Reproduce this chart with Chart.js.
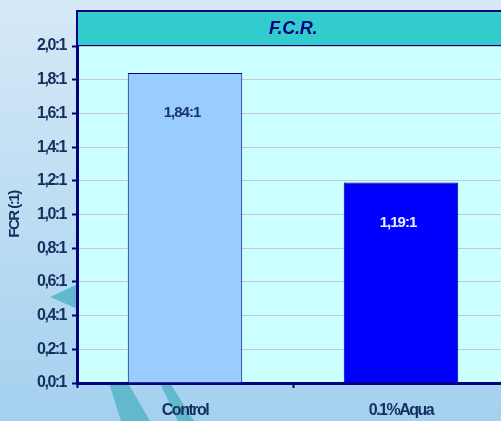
<!DOCTYPE html>
<html><head><meta charset="utf-8">
<script src="https://cdn.jsdelivr.net/npm/chart.js@4"></script>
<style>
html,body{margin:0;padding:0;overflow:hidden;width:501px;height:421px;background:#BFDDF3;}
#wrap{width:512px;height:421px;position:relative;}
</style></head><body><div id="wrap"><canvas id="c" width="512" height="421"></canvas></div>
<script>
const categories = ['Control', '0.1%Aqua'];
const fcrValues = [1.84, 1.19];
const barColors = ['#99CCFF', '#0000FF'];
const labelColors = ['#1B3566', '#E6F2FF'];
const chartTitle = 'F.C.R.';
const yAxisTitle = 'FCR (:1)';

const NAVY = '#000080';
const TEXT = '#142E5E';
const FONT = '"Liberation Sans", Arial, sans-serif';
const SPACING = '-1.5px';

const fmt = v => v.toFixed(1).replace('.', ',') + ':1';
const fmtLabel = v => v.toFixed(2).replace('.', ',') + ':1';

const decoPlugin = {
  id: 'deco',
  beforeLayout(chart) { chart.ctx.letterSpacing = SPACING; },
  beforeDraw(chart) {
    const ctx = chart.ctx;
    const W = chart.width, H = chart.height;
    ctx.save();
    ctx.letterSpacing = '0px';
    const g = ctx.createLinearGradient(0, 0, 0, H);
    g.addColorStop(0, '#D6E9F7');
    g.addColorStop(1, '#A4D1EF');
    ctx.fillStyle = g;
    ctx.fillRect(0, 0, W, H);
    // decorative arrow shapes (background ornament)
    ctx.fillStyle = '#62B9CE';
    ctx.beginPath();
    ctx.moveTo(50, 297); ctx.lineTo(80, 283); ctx.lineTo(80, 310); ctx.closePath(); ctx.fill();
    ctx.beginPath();
    ctx.moveTo(109, 383); ctx.lineTo(128, 383); ctx.lineTo(150, 421); ctx.lineTo(121, 421); ctx.closePath(); ctx.fill();
    ctx.beginPath();
    ctx.moveTo(160, 383); ctx.lineTo(170, 383); ctx.lineTo(194, 421); ctx.lineTo(178, 421); ctx.closePath(); ctx.fill();
    // plot background and header band
    const a = chart.chartArea;
    ctx.fillStyle = '#CCFFFF';
    ctx.fillRect(a.left, a.top, a.right - a.left, a.bottom - a.top);
    ctx.fillStyle = '#33CCCC';
    ctx.fillRect(a.left, a.top - 35, a.right - a.left, 35);
    ctx.strokeStyle = NAVY;
    ctx.lineWidth = 2;
    ctx.strokeRect(a.left, a.top - 35, a.right - a.left + 10, 35);
    // header title
    ctx.fillStyle = NAVY;
    ctx.font = 'italic bold 18px ' + FONT;
    ctx.letterSpacing = '-0.3px';
    ctx.textAlign = 'center';
    ctx.textBaseline = 'middle';
    ctx.fillText(chartTitle, (a.left + a.right) / 2, a.top - 17);
    ctx.restore();
    ctx.letterSpacing = SPACING;
  },
  afterDatasetsDraw(chart) {
    const ctx = chart.ctx;
    const meta = chart.getDatasetMeta(0);
    ctx.save();
    ctx.font = 'bold 15px ' + FONT;
    ctx.letterSpacing = '-1px';
    ctx.textAlign = 'center';
    ctx.textBaseline = 'middle';
    meta.data.forEach((bar, i) => {
      ctx.fillStyle = labelColors[i];
      ctx.fillText(fmtLabel(fcrValues[i]), bar.x - 3, bar.y + 40);
    });
    ctx.restore();
  }
};

new Chart(document.getElementById('c'), {
  type: 'bar',
  data: {
    labels: categories,
    datasets: [{
      data: fcrValues,
      backgroundColor: barColors,
      borderColor: NAVY,
      borderWidth: 1,
      barPercentage: 0.53,
      categoryPercentage: 1
    }]
  },
  options: {
    responsive: false,
    devicePixelRatio: 1,
    animation: false,
    layout: { padding: { top: 46, left: 0, right: 3, bottom: 0 } },
    plugins: {
      legend: { display: false },
      tooltip: { enabled: false },
      title: { display: false }
    },
    scales: {
      x: {
        afterFit(s) { s.height = 38; },
        border: { color: NAVY, width: 3 },
        grid: { display: true, drawOnChartArea: false, offset: true, tickColor: NAVY, tickWidth: 2, tickLength: 5 },
        ticks: { color: TEXT, padding: 13, font: { family: FONT, size: 16, weight: 'bold' } }
      },
      y: {
        min: 0, max: 2,
        afterFit(s) { s.width = 77; },
        border: { color: NAVY, width: 3 },
        grid: { color: '#C8C8C8', lineWidth: 1, tickColor: NAVY, tickWidth: 2, tickLength: 5 },
        ticks: { stepSize: 0.2, color: TEXT, padding: 6, callback: v => fmt(v),
          font: { family: FONT, size: 16, weight: 'bold' } },
        title: { display: true, text: yAxisTitle, color: TEXT, padding: { top: 6, bottom: 0 },
          font: { family: FONT, size: 15, weight: 'bold' } }
      }
    }
  },
  plugins: [decoPlugin]
});
</script></body></html>
